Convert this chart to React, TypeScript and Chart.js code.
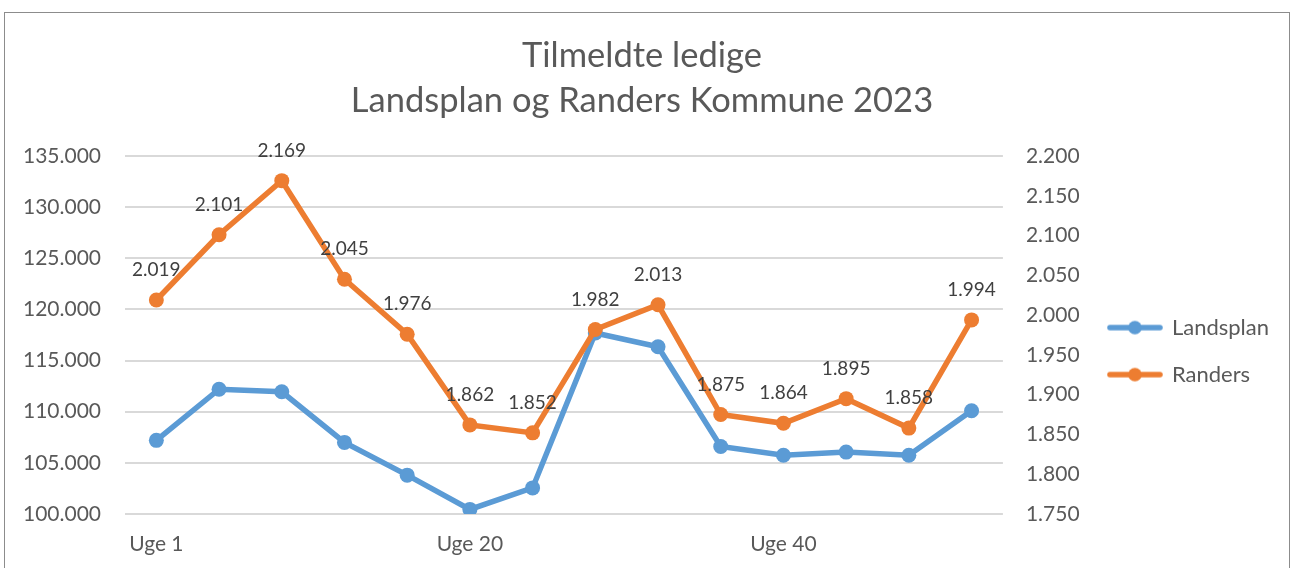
import React, { useEffect, useRef } from 'react';
import { Chart, registerables } from 'chart.js';

Chart.register(...registerables);

const weeks = ['Uge 1', 'Uge 4', 'Uge 8', 'Uge 12', 'Uge 16', 'Uge 20', 'Uge 24', 'Uge 28', 'Uge 32', 'Uge 36', 'Uge 40', 'Uge 44', 'Uge 48', 'Uge 52'];
const landsplan = [107200, 112200, 111950, 107000, 103800, 100450, 102550, 117700, 116350, 106600, 105750, 106050, 105750, 110100];
const randers = [2019, 2101, 2169, 2045, 1976, 1862, 1852, 1982, 2013, 1875, 1864, 1895, 1858, 1994];
const leftMin = 100000;
const leftMax = 135000;
const leftStep = 5000;
const rightMin = 1750;
const rightMax = 2200;
const rightStep = 50;
const titleLines = ['Tilmeldte ledige', 'Landsplan og Randers Kommune 2023'];

const BLUE = '#5B9BD5';
const ORANGE = '#ED7D31';
const FONT = 'Lato';

const fmt = (v: number) => Math.round(v).toString().replace(/\B(?=(\d{3})+(?!\d))/g, '.');

function makeSwatch(color: string) {
  const c = document.createElement('canvas');
  c.width = 56;
  c.height = 16;
  const g = c.getContext('2d')!;
  g.strokeStyle = color;
  g.lineWidth = 5.5;
  g.lineCap = 'round';
  g.beginPath();
  g.moveTo(3, 8);
  g.lineTo(53, 8);
  g.stroke();
  g.fillStyle = color;
  g.beginPath();
  g.arc(28, 8, 6.8, 0, Math.PI * 2);
  g.fill();
  return c;
}

const dataLabels = {
  id: 'dataLabels',
  afterDatasetsDraw(chart: any) {
    const meta = chart.getDatasetMeta(1);
    const ctx = chart.ctx;
    ctx.save();
    ctx.font = `19px ${FONT}`;
    ctx.fillStyle = '#404040';
    ctx.textAlign = 'center';
    ctx.textBaseline = 'middle';
    meta.data.forEach((pt: any, i: number) => {
      ctx.fillText(fmt(randers[i]), pt.x, pt.y - 30);
    });
    ctx.restore();
  },
};

export default function App() {
  const ref = useRef<HTMLCanvasElement>(null);
  useEffect(() => {
    const swatches = [makeSwatch(BLUE), makeSwatch(ORANGE)];
    const chart = new Chart(ref.current!, {
      type: 'line',
      data: {
        labels: weeks,
        datasets: [
          {
            label: 'Landsplan',
            data: landsplan,
            borderColor: BLUE,
            backgroundColor: BLUE,
            borderWidth: 5.5,
            pointRadius: 7.5,
            pointBorderWidth: 0,
            pointBackgroundColor: BLUE,
            yAxisID: 'y',
            order: 1,
            tension: 0,
          },
          {
            label: 'Randers',
            data: randers,
            borderColor: ORANGE,
            backgroundColor: ORANGE,
            borderWidth: 5.5,
            pointRadius: 7.5,
            pointBorderWidth: 0,
            pointBackgroundColor: ORANGE,
            yAxisID: 'y1',
            order: 0,
            tension: 0,
          },
        ],
      },
      options: {
        responsive: false,
        animation: false,
        layout: { padding: { left: 0, right: 10, top: 0, bottom: 0 } },
        plugins: {
          tooltip: { enabled: false },
          title: {
            display: true,
            text: titleLines,
            color: '#595959',
            font: { family: FONT, size: 34.5, weight: 'normal', lineHeight: 45 / 34.5 },
            padding: { top: 20, bottom: 33 },
          },
          legend: {
            position: 'right',
            fullSize: false,
            align: 'center',
            title: { display: true, text: '', font: { size: 1 }, padding: { top: 31, bottom: 0 } },
            labels: {
              usePointStyle: true,
              pointStyleWidth: 52,
              padding: 25,
              color: '#595959',
              font: { family: FONT, size: 22 },
              sort: (a: any, b: any) => a.datasetIndex - b.datasetIndex,
              generateLabels: (ch: any) => {
                const items = (Chart as any).defaults.plugins.legend.labels.generateLabels(ch);
                return items.map((it: any) => ({ ...it, pointStyle: swatches[it.datasetIndex] }));
              },
            },
          },
        },
        scales: {
          x: {
            offset: true,
            grid: { display: false, drawTicks: false },
            border: { display: false },
            ticks: {
              autoSkip: false,
              maxRotation: 0,
              padding: 18,
              color: '#595959',
              font: { family: FONT, size: 21 },
              callback: (_v: any, i: number) => (i % 5 === 0 ? weeks[i] : ''),
            },
            afterFit: (s: any) => { s.height = 54; },
          },
          y: {
            position: 'left',
            min: leftMin,
            max: leftMax,
            grid: { color: '#d9d9d9', lineWidth: 2, drawTicks: false },
            border: { display: false },
            ticks: {
              stepSize: leftStep,
              padding: 24,
              color: '#595959',
              font: { family: FONT, size: 21 },
              callback: (v: any) => fmt(Number(v)),
            },
            afterFit: (s: any) => { s.width = 120; },
          },
          y1: {
            position: 'right',
            min: rightMin,
            max: rightMax,
            grid: { display: false, drawTicks: false },
            border: { display: false },
            ticks: {
              stepSize: rightStep,
              padding: 23,
              color: '#595959',
              font: { family: FONT, size: 21 },
              callback: (v: any) => fmt(Number(v)),
            },
            afterFit: (s: any) => { s.width = 81; },
          },
        },
      },
      plugins: [dataLabels],
    });
    return () => chart.destroy();
  }, []);

  return (
    <div
      style={{
        position: 'fixed',
        left: 4,
        top: 12,
        width: 1286,
        height: 560,
        border: '1px solid #8c8c8c',
        borderBottom: 'none',
        boxSizing: 'border-box',
        background: '#fff',
      }}
    >
      <canvas ref={ref} width={1284} height={555} style={{ display: 'block' }} />
    </div>
  );
}
